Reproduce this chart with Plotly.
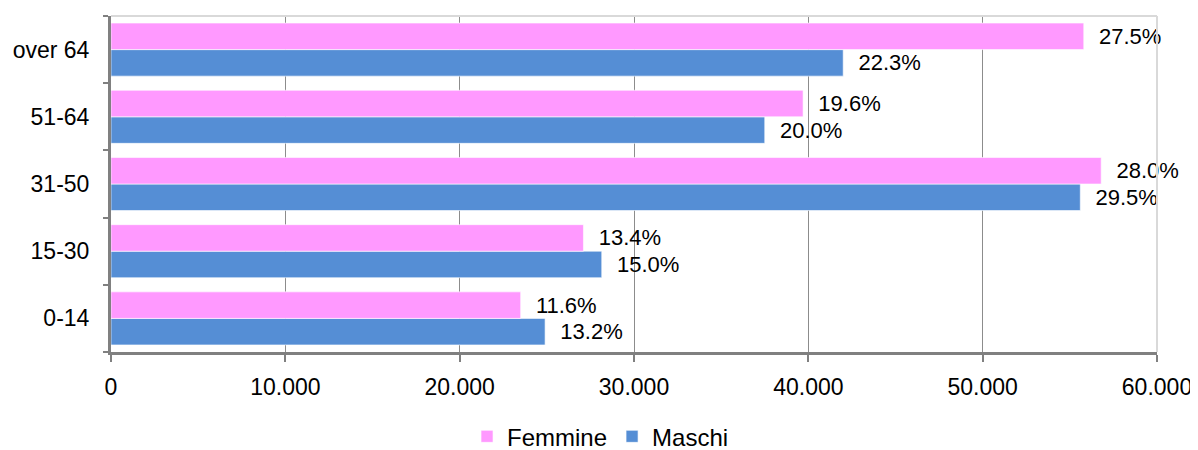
import plotly.graph_objects as go

FONT = "Liberation Sans, Arial, sans-serif"
PINK = "#FF99FF"
BLUE = "#558ED5"

categories = ["0-14", "15-30", "31-50", "51-64", "over 64"]
femmine = [23500, 27100, 56800, 39700, 55800]
maschi = [24900, 28150, 55600, 37500, 42000]
femmine_pct = ["11.6%", "13.4%", "28.0%", "19.6%", "27.5%"]
maschi_pct = ["13.2%", "15.0%", "29.5%", "20.0%", "22.3%"]
x_ticks = [0, 10000, 20000, 30000, 40000, 50000, 60000]
x_tick_labels = ["0", "10.000", "20.000", "30.000", "40.000", "50.000", "60.000"]

pad = "\u00a0\u00a0"

fig = go.Figure()
# Maschi first so it sits below Femmine within each group
fig.add_trace(go.Bar(
    y=categories, x=maschi, orientation="h", name="Maschi",
    marker=dict(color=BLUE, line=dict(color="rgba(255,255,255,0.6)", width=1)),
    text=[pad + t for t in maschi_pct], textposition="outside",
    textfont=dict(family=FONT, size=22, color="#000000"),
    cliponaxis=False, legendrank=2,
))
fig.add_trace(go.Bar(
    y=categories, x=femmine, orientation="h", name="Femmine",
    marker=dict(color=PINK, line=dict(color="rgba(255,255,255,0.6)", width=1)),
    text=[pad + t for t in femmine_pct], textposition="outside",
    textfont=dict(family=FONT, size=22, color="#000000"),
    cliponaxis=False, legendrank=1,
))

# page body adds an 8px margin, so the figure is 16px smaller than the window
fig.update_layout(
    barmode="group",
    bargap=0.21,
    bargroupgap=0,
    width=1190, height=442,
    margin=dict(l=103, r=41, t=8, b=98, autoexpand=False),
    paper_bgcolor="white", plot_bgcolor="white",
    font=dict(family=FONT, size=23, color="#000000"),
    showlegend=True,
    legend=dict(orientation="h", x=0.468, xanchor="center",
                yref="container", y=0.03, yanchor="middle",
                font=dict(size=24), itemwidth=30, tracegroupgap=0),
)

fig.update_xaxes(
    range=[0, 60000], tickvals=x_ticks, ticktext=x_tick_labels,
    showgrid=True, gridcolor="#8c8c8c", gridwidth=1,
    showline=True, linecolor="#808080", linewidth=3,
    ticks="outside", ticklen=7, tickwidth=2, tickcolor="#808080",
    ticklabelstandoff=5, tickfont=dict(size=23), zeroline=False, automargin=False,
)
fig.update_yaxes(
    categoryorder="array", categoryarray=categories,
    showline=True, linecolor="#808080", linewidth=3,
    ticks="outside", tickson="boundaries", ticklen=5, tickwidth=2, tickcolor="#808080",
    ticklabelstandoff=14, tickfont=dict(size=23), showgrid=False, automargin=False,
)

# light frame on top and right
fig.add_shape(type="line", xref="paper", yref="paper", x0=0, x1=1, y0=1, y1=1,
              line=dict(color="#d9d9d9", width=2), layer="above")
fig.add_shape(type="line", xref="paper", yref="paper", x0=1, x1=1, y0=0, y1=1,
              line=dict(color="#d9d9d9", width=2), layer="above")

fig.write_html("out.html")
